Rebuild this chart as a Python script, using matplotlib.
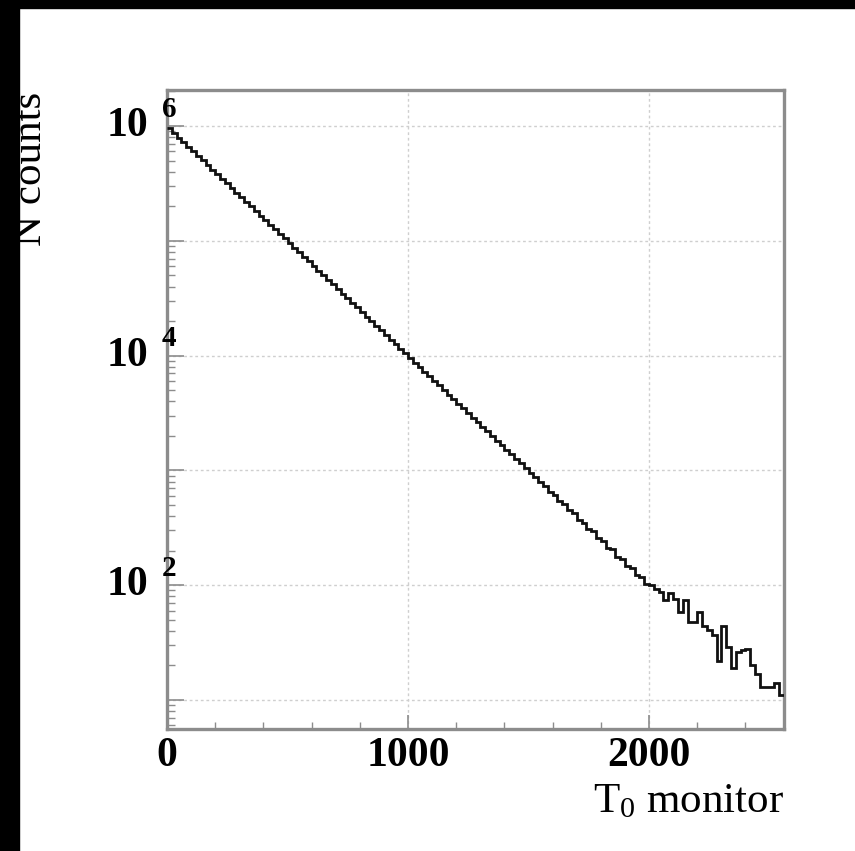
import numpy as np
import matplotlib
matplotlib.use("Agg")
import matplotlib.pyplot as plt
from matplotlib.ticker import FixedLocator, LogLocator, NullFormatter
import matplotlib.transforms as mtransforms

plt.rcParams["mathtext.fontset"] = "custom"
plt.rcParams["mathtext.rm"] = "Liberation Serif"
plt.rcParams["mathtext.it"] = "Liberation Serif:italic"
plt.rcParams["mathtext.bf"] = "Liberation Serif:bold"
plt.rcParams["mathtext.default"] = "rm"

# ---------------- data ----------------
bin_width = 20
x_min, x_max = 0, 2560
counts = [
    955000, 871000, 794000, 724000, 661000, 603000, 550000, 501000, 457000, 417000,
    380000, 347000, 316000, 288000, 263000, 240000, 219000, 200000, 182000, 166000,
    151000, 138000, 126000, 115000, 105000,
    95500, 87100, 79400, 72400, 66100, 60300, 55000, 50100, 45700, 41700,
    38000, 34700, 31600, 28800, 26300, 24000, 21900, 20000, 18200, 16600,
    15100, 13800, 12600, 11500, 10500,
    9550, 8710, 7940, 7240, 6610, 6030, 5500, 5010, 4570, 4170,
    3800, 3470, 3160, 2880, 2630, 2400, 2190, 2000, 1820, 1660,
    1510, 1380, 1260, 1150, 1050,
    955, 880, 790, 730, 650, 610, 545, 505, 450, 425,
    372, 350, 310, 295, 258, 245, 212, 205, 176, 170,
    146, 140, 122, 118, 102,
    100, 92, 88, 74, 85, 76, 59, 74, 48, 48,
    59, 44, 41, 37, 22, 44, 29, 19, 26, 27,
    28, 20, 17, 13, 13, 13, 14, 11,
]
x_ticks = [0, 1000, 2000]
x_tick_labels = ["0", "1000", "2000"]
y_label_exponents = [6, 4, 2]
y_lim = (5.59, 2.06e6)
x_label = "T$_0$ monitor"
y_label = "N counts"

edges = np.arange(x_min, x_max + bin_width, bin_width)

# ---------------- figure ----------------
W, H = 855, 851
fig = plt.figure(figsize=(W / 100, H / 100), dpi=100)
fig.patch.set_facecolor("white")
# black border bands of the scanned picture
fig.patches.append(plt.Rectangle((0, 0), 19 / W, 1, transform=fig.transFigure,
                                 color="black", zorder=0))
fig.patches.append(plt.Rectangle((0, 1 - 8 / H), 1, 8 / H, transform=fig.transFigure,
                                 color="black", zorder=0))

ax = fig.add_axes([167 / W, 1 - 729 / H, (784 - 167) / W, (729 - 90) / H])
ax.set_yscale("log")
ax.set_xlim(x_min, x_max)
ax.set_ylim(*y_lim)

ax.stairs(counts, edges, baseline=None, color="#111111", linewidth=2.0, zorder=3)

frame_col = "#8c8c8c"
for s in ax.spines.values():
    s.set_color(frame_col)
    s.set_linewidth(2.4)

serif = ["Liberation Serif", "DejaVu Serif"]

# x ticks
ax.set_xticks(x_ticks)
ax.set_xticklabels(x_tick_labels, fontfamily=serif, fontweight="bold", fontsize=30)
ax.xaxis.set_minor_locator(FixedLocator(np.arange(x_min, x_max + 1, 200)))
ax.tick_params(axis="x", which="major", direction="in", length=10, width=1.2,
               color=frame_col, pad=6, top=False)
ax.tick_params(axis="x", which="minor", direction="in", length=5, width=1.0,
               color=frame_col, top=False)

# y ticks
ax.yaxis.set_major_locator(LogLocator(base=10, numticks=20))
ax.yaxis.set_minor_locator(LogLocator(base=10, subs=np.arange(2, 10), numticks=40))
ax.yaxis.set_major_formatter(NullFormatter())
ax.yaxis.set_minor_formatter(NullFormatter())
ax.tick_params(axis="y", which="major", direction="in", length=12, width=1.2,
               color=frame_col, right=False)
ax.tick_params(axis="y", which="minor", direction="in", length=6, width=1.0,
               color=frame_col, right=False)

# grid
ax.grid(True, which="major", axis="both", linestyle=(0, (2, 2)), color="#cfcfcf",
        linewidth=1.0)
ax.set_axisbelow(True)

# custom y labels "10" + exponent
trans = mtransforms.blended_transform_factory(ax.transAxes, ax.transData)
for e in y_label_exponents:
    v = 10.0 ** e
    ax.text(-19 / 617, v, "10", transform=trans, ha="right", va="center",
            fontfamily=serif, fontweight="bold", fontsize=30)
    ax.annotate(str(e), xy=(-5 / 617, v), xycoords=trans,
                xytext=(0, 12), textcoords="offset points",
                ha="left", va="center", fontfamily=serif, fontweight="bold",
                fontsize=21)

# axis titles
fig.text(784 / W, 1 - 812 / H, x_label, ha="right", va="baseline",
         fontfamily=serif, fontsize=31)
fig.text(50 / W, 1 - 92 / H, y_label, ha="right", va="top", rotation=90,
         fontfamily=serif, fontsize=31)

fig.savefig("out.png", dpi=100, facecolor=fig.get_facecolor())
